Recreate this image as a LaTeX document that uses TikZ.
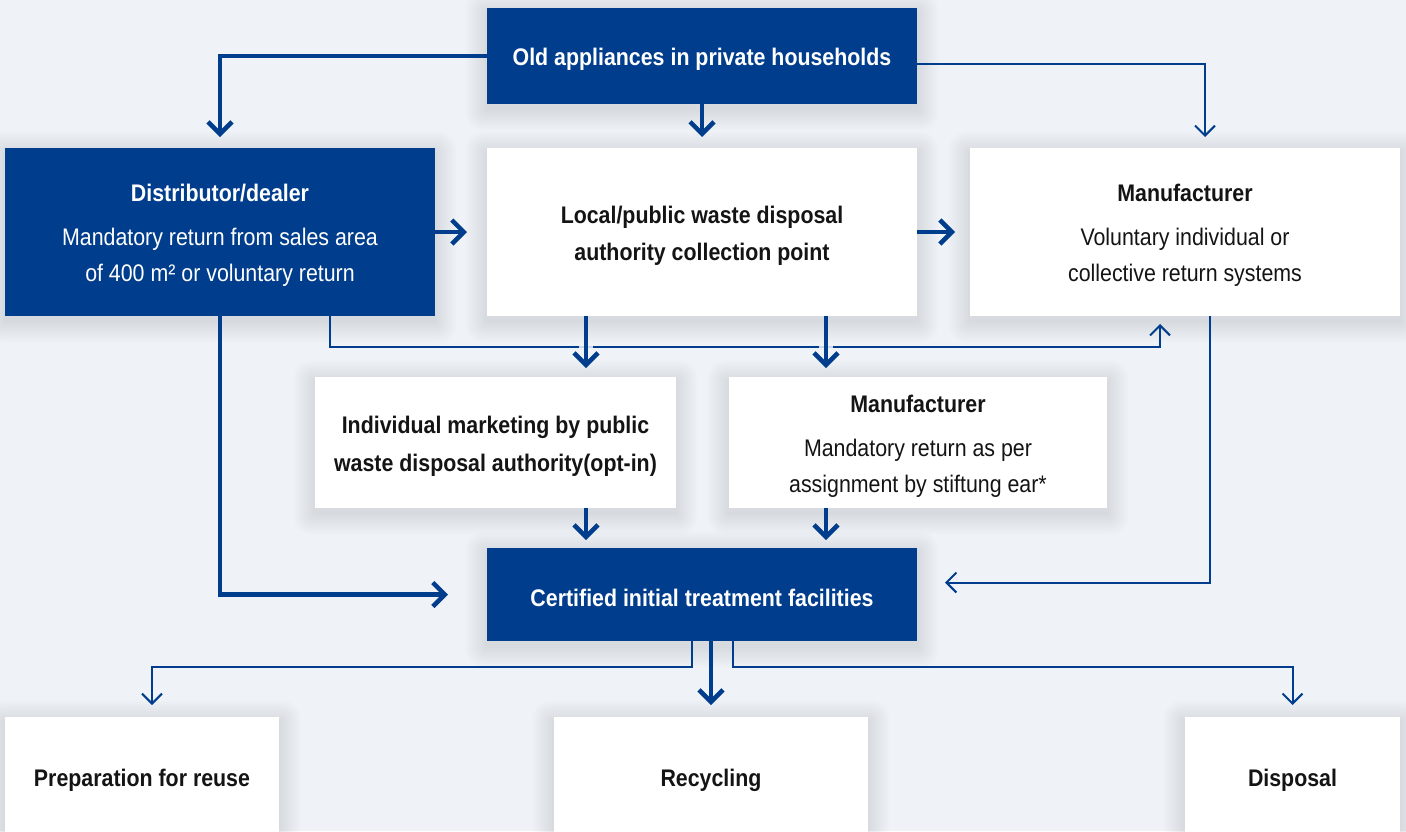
\documentclass[tikz,border=0pt]{standalone}
\usepackage{fontspec}
\setmainfont{Liberation Sans}[FakeStretch=0.89]
\usetikzlibrary{arrows.meta}
\definecolor{navy}{RGB}{0,61,140}
\definecolor{bgc}{RGB}{239,243,248}
\definecolor{ink}{RGB}{20,20,20}
\newcommand\topstrut{\rule{0pt}{24pt}}
\pgfdeclarelayer{bglayer}
\pgfdeclarelayer{shadowlayer}
\pgfsetlayers{bglayer,shadowlayer,main}
\newcommand\boxshadow[1]{%
  \foreach \r in {1,...,12}{%
    \fill[black,opacity=0.009,rounded corners=\r*1.5pt]
      ([xshift=-\r*1.8pt,yshift=\r*1.8pt-5pt]#1.north west) rectangle
      ([xshift=\r*1.8pt,yshift=-\r*1.8pt-5pt]#1.south east);}}
\begin{document}
\begin{tikzpicture}[x=1pt,y=-1pt,
  every node/.style={inner sep=0pt,outer sep=0pt,align=center,font=\fontsize{24}{36}\selectfont},
  darkbox/.style={rectangle,fill=navy,text=white},
  lightbox/.style={rectangle,fill=white,text=ink},
  thk/.style={draw=navy,line width=4.5pt,-{Straight Barb[length=12pt,width=24pt]}},
  thn/.style={draw=navy,line width=2pt,-{Straight Barb[length=10pt,width=20pt]}},
  halo/.style={draw=bgc,line width=14pt}
]
\path[use as bounding box] (0,0) rectangle (1406,831);
\begin{pgfonlayer}{bglayer}
\fill[bgc] (0,0) rectangle (1406,831);
\end{pgfonlayer}

% boxes
\node[darkbox,minimum width=430pt,minimum height=96pt] (old) at (702,56) {\topstrut\textbf{Old appliances in private households}};
\node[darkbox,minimum width=430pt,minimum height=168pt] (dist) at (220,232)
  {\topstrut\textbf{Distributor/dealer}\\[8pt]Mandatory return from sales area\\of 400 m² or voluntary return};
\node[lightbox,minimum width=430pt,minimum height=168pt] (local) at (702,232)
  {\topstrut\textbf{Local/public waste disposal}\\[1pt]\textbf{authority collection point}};
\node[lightbox,minimum width=430pt,minimum height=168pt] (manu) at (1185,232)
  {\topstrut\textbf{Manufacturer}\\[8pt]Voluntary individual or\\collective return systems};
\node[lightbox,minimum width=361pt,minimum height=131pt] (indiv) at (495.5,442.5)
  {\topstrut\textbf{Individual marketing by public}\\[2pt]\textbf{waste disposal authority(opt-in)}};
\node[lightbox,minimum width=378pt,minimum height=131pt] (manm) at (918,442.5)
  {\topstrut\textbf{Manufacturer}\\[8pt]Mandatory return as per\\assignment by stiftung ear*};
\node[darkbox,minimum width=430pt,minimum height=93pt] (cert) at (702,594.5)
  {\topstrut\textbf{Certified initial treatment facilities}};
\node[lightbox,minimum width=274pt,minimum height=120pt] (prep) at (142,777) {\topstrut\textbf{Preparation for reuse}};
\node[lightbox,minimum width=314pt,minimum height=120pt] (recy) at (711,777) {\topstrut\textbf{Recycling}};
\node[lightbox,minimum width=215pt,minimum height=120pt] (disp) at (1292.5,777) {\topstrut\textbf{Disposal}};

% soft shadows
\begin{pgfonlayer}{shadowlayer}
\foreach \n in {old,dist,local,manu,indiv,manm,cert,prep,recy,disp}{\boxshadow{\n}}
\end{pgfonlayer}

% helper coordinates
\coordinate (a1) at (586,0);
\coordinate (a2) at (826,0);
\coordinate (lp1) at (330,0);
\coordinate (loopR) at (1160,347);
\coordinate (a3) at (1210,0);
\coordinate (b1) at (692,667);
\coordinate (b2) at (733,667);

% top connectors
\draw[thk,shorten >=11pt] (old.west) -| (dist.north);
\draw[thk,shorten >=11pt] (old.south) -- (local.north);
\draw[thn,shorten >=11pt] ([yshift=-8pt]old.east) -| ([xshift=20pt]manu.north);
\draw[thk,shorten >=20pt] (dist.east) -- (local.west);
\draw[thk,shorten >=15pt] (local.east) -- (manu.west);

% thin loop from distributor to manufacturer
\draw[thn,shorten >=8pt] (dist.south -| lp1) |- (loopR) -- (manu.south -| loopR);
\draw[halo,draw opacity=0.85] (586,343) -- (586,351);
\draw[halo,draw opacity=0.85] (826,343) -- (826,351);

% collection point down
\draw[thk,shorten >=9pt] (local.south -| a1) -- (indiv.north -| a1);
\draw[thk,shorten >=9pt] (local.south -| a2) -- (manm.north -| a2);
\draw[thk,shorten >=8pt] (indiv.south -| a1) -- (cert.north -| a1);
\draw[thk,shorten >=8pt] (manm.south -| a2) -- (cert.north -| a2);

% side connectors to certified facilities
\draw[thk,shorten >=39pt] (dist.south) |- (cert.west);
\draw[thn,shorten >=28pt] (manu.south -| a3) |- ([yshift=12pt]cert.east);

% bottom connectors
\draw[thn,shorten >=12pt] (cert.south -| b1) -- (b1) -| ([xshift=10pt]prep.north);
\draw[thk,shorten >=12pt] (cert.south -| recy.north) -- (recy.north);
\draw[thn,shorten >=12pt] (cert.south -| b2) -- (b2) -| (disp.north);
\end{tikzpicture}
\end{document}
